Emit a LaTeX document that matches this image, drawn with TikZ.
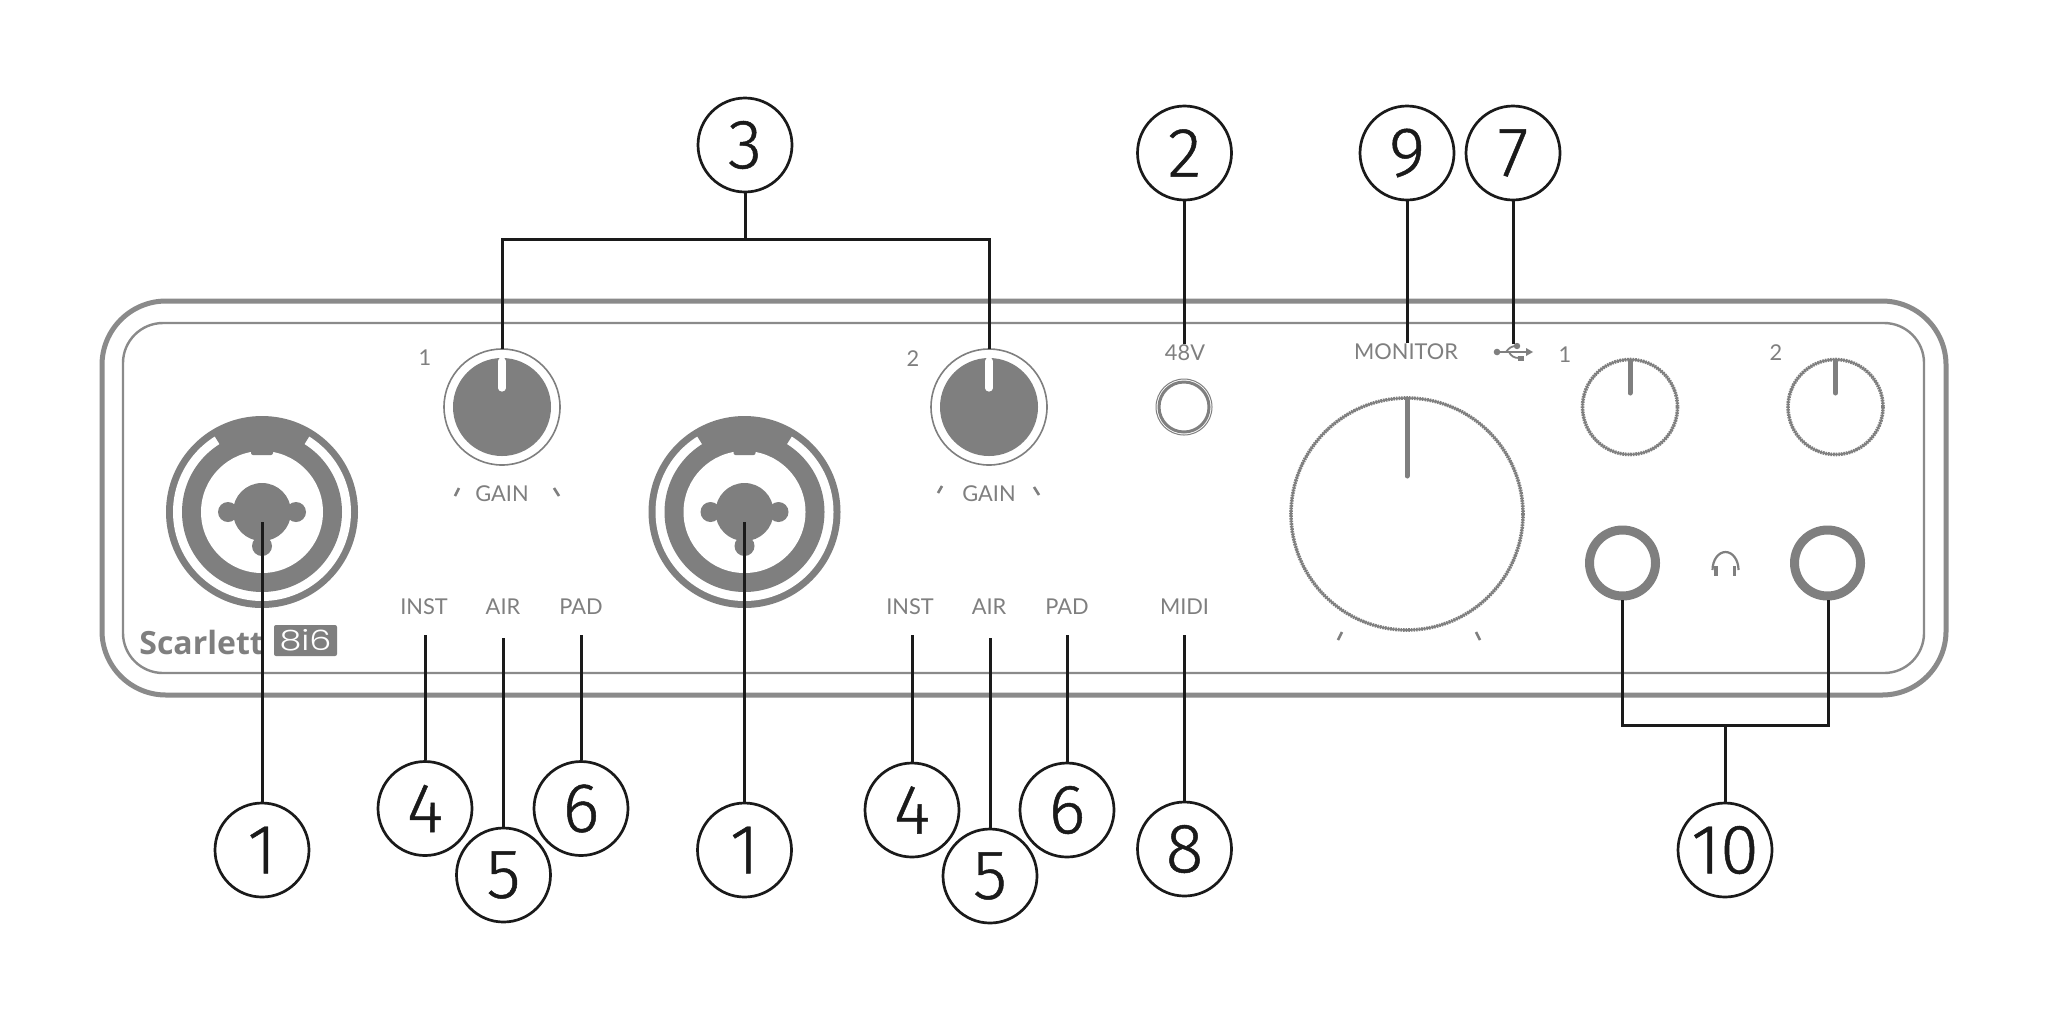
\documentclass[tikz,border=0pt]{standalone}
\usepackage{fontspec}
\usepackage{graphicx}
\setmainfont{Lato}
\newfontfamily\digitfont[FakeBold=0.7]{Fira Sans Light}
\newfontfamily\panelfont{Lato}
\newfontfamily\logofont{Open Sans}
\newfontfamily\modelfont{Poppins Light}
\definecolor{panelgray}{HTML}{7F7F7F}
\definecolor{edgegray}{HTML}{8A8A8A}
\definecolor{leader}{HTML}{1A1A1A}
\tikzset{
  caseline/.style={draw=edgegray,line width=2.5pt,rounded corners=32pt},
  innerline/.style={draw=edgegray,line width=1.2pt,rounded corners=20pt},
  callout/.style={circle,draw=leader,line width=1.35pt,fill=white,minimum size=47pt,inner sep=0pt,font=\digitfont\fontsize{35}{35}\selectfont,text=leader},
  leadline/.style={draw=leader,line width=1.5pt},
  label/.style={font=\panelfont\fontsize{10.9}{12}\selectfont,text=panelgray,inner sep=0pt},
  tickmark/.style={draw=panelgray,line width=1.3pt},
  pointerw/.style={draw=white,line width=3.6pt,line cap=round},
  pointerg/.style={draw=panelgray,line width=2.5pt,line cap=round},
  dotring/.style={draw=panelgray,line width=0.8pt,fill=white,postaction={draw=panelgray,line width=1.8pt,dash pattern=on 0.8pt off 0.5pt}},
}
\newcommand{\combojack}[2]{%
  \begin{scope}[shift={(#1,#2)}]
    \fill[panelgray] (0,0) circle (96);
    \fill[white] (0,0) circle (89);
    \fill[panelgray] (0,0) circle (80);
    \fill[panelgray] (0,0) -- (-122:95) arc (-122:-58:95) -- cycle;
    \fill[white] (0,0) circle (61);
    \fill[panelgray,rounded corners=1pt] (-11,-66) rectangle (11,-57);
    \fill[panelgray] (0,0) circle (29);
    \fill[panelgray] (-34,0) circle (10);
    \fill[panelgray] (34,0) circle (10);
    \fill[panelgray] (0,34) circle (10);
  \end{scope}}
\newcommand{\gainknob}[2]{%
  \begin{scope}[shift={(#1,#2)}]
    \draw[panelgray,line width=0.8pt,fill=white] (0,0) circle (58);
    \fill[panelgray] (0,0) circle (49);
    \draw[pointerw] (0,-46) -- (0,-19);
  \end{scope}}
\begin{document}
\begin{tikzpicture}[x=0.5pt,y=-0.5pt]
\useasboundingbox[fill=white] (0,0) rectangle (2048,1024);
% case
\draw[caseline] (102,301) rectangle (1946,695);
\draw[innerline] (123,323) rectangle (1924,673);
% jacks
\combojack{262}{512}
\combojack{744.5}{512}
% gain knobs
\gainknob{502}{407}
\gainknob{989}{407}
\node[label] at (425,358) {1};
\node[label] at (913,359) {2};
\node[label] at (502,494) {GAIN};
\node[label] at (989,494) {GAIN};
\draw[tickmark] (459,488) -- (455,496);
\draw[tickmark] (554,488) -- (559,496);
\draw[tickmark] (942,486) -- (938,493);
\draw[tickmark] (1034,487) -- (1039,495);
% labels row
\node[label] at (424,607) {INST};
\node[label] at (503,607) {AIR};
\node[label] at (581,607) {PAD};
\node[label] at (910,607) {INST};
\node[label] at (989,607) {AIR};
\node[label] at (1067,607) {PAD};
\node[label] at (1184.5,607) {MIDI};
% 48V
\node[label] at (1185,353) {48V};
\draw[panelgray,line width=0.5pt] (1184,407) circle (28);
\draw[panelgray,line width=1.5pt] (1184,407) circle (25);
% monitor
\node[label] at (1406,352) {MONITOR};
\draw[dotring] (1407,514) circle (116);
\draw[pointerg] (1407,400) -- (1407,476);
\draw[tickmark] (1342,632) -- (1338,640);
\draw[tickmark] (1476,632) -- (1480,640);
% USB
\fill[panelgray] (1497,352) circle (3.3);
\draw[panelgray,line width=0.9pt] (1497,352) -- (1528,352);
\fill[panelgray] (1533,352) -- (1526,348) -- (1526,356) -- cycle;
\draw[panelgray,line width=0.9pt] (1506,352) .. controls (1509,348) and (1511,346) .. (1517,346);
\draw[panelgray,line width=0.9pt] (1509,352) .. controls (1511,356) and (1514,358) .. (1519,358);
\fill[panelgray] (1517,346) circle (3.2);
\fill[panelgray] (1518,356) rectangle (1523.5,361);
% line outs
\node[label] at (1565,355) {1};
\node[label] at (1776,353) {2};
\draw[dotring] (1630,407) circle (47.5);
\draw[pointerg] (1630,361) -- (1630,393);
\draw[dotring] (1835.5,407) circle (47.5);
\draw[pointerg] (1835.5,361) -- (1835.5,393);
% headphones
\draw[panelgray,line width=4.5pt] (1622.5,563) circle (33);
\draw[panelgray,line width=4.5pt] (1827.5,563) circle (33);
\draw[panelgray,line width=1.1pt] (1712.5,570) arc (180:360:13 and 18);
\draw[panelgray,line width=1.9pt] (1716,566) -- (1716,576);
\draw[panelgray,line width=1.9pt] (1734.5,566) -- (1734.5,576);
% logo
\node[font=\logofont\bfseries\fontsize{16}{17}\selectfont,text=panelgray,anchor=base west,inner sep=0pt] (logo) at (139,654) {Scarlett};
\fill[panelgray,rounded corners=1pt] (274,625) rectangle (337,656);
\node[font=\modelfont\fontsize{14}{14}\selectfont,text=white,inner sep=0pt] (model) at (305.5,640.5) {\scalebox{1.25}[1]{8i6}};
% anchors
\coordinate (jackA) at (262,522);
\coordinate (jackB) at (744.5,522);
\coordinate (gainA) at (502,349);
\coordinate (gainB) at (989,349);
\coordinate (instA) at (425,635);
\coordinate (airA) at (503.5,638);
\coordinate (padA) at (581,635);
\coordinate (instB) at (912,635);
\coordinate (airB) at (990,638);
\coordinate (padB) at (1067,635);
\coordinate (midi) at (1184.5,635);
\coordinate (phant) at (1184.5,344);
\coordinate (mon) at (1407,343);
\coordinate (usb) at (1513,344);
\coordinate (hpA) at (1622.5,600);
\coordinate (hpB) at (1828,600);
% callouts
\node[callout] (c3) at (745,145) {3};
\node[callout] (c2) at (1184.5,153) {2};
\node[callout] (c9) at (1407,153) {9};
\node[callout] (c7) at (1513,153) {7};
\node[callout] (c1a) at (262,850) {1};
\node[callout] (c4a) at (425,808.5) {4};
\node[callout] (c5a) at (503.5,875) {5};
\node[callout] (c6a) at (581,808.5) {6};
\node[callout] (c1b) at (744.5,850) {1};
\node[callout] (c4b) at (912,810) {4};
\node[callout] (c5b) at (990,876) {5};
\node[callout] (c6b) at (1067,810) {6};
\node[callout] (c8) at (1184.5,849) {8};
\node[callout] (c10) at (1725,850) {10};
% leaders
\draw[leadline] (jackA) -- (c1a);
\draw[leadline] (jackB) -- (c1b);
\draw[leadline] (instA) -- (c4a);
\draw[leadline] (airA) -- (c5a);
\draw[leadline] (padA) -- (c6a);
\draw[leadline] (instB) -- (c4b);
\draw[leadline] (airB) -- (c5b);
\draw[leadline] (padB) -- (c6b);
\draw[leadline] (midi) -- (c8);
\draw[leadline] (phant) -- (c2);
\draw[leadline] (mon) -- (c9);
\draw[leadline] (usb) -- (c7);
\draw[leadline] (c3) -- (745,239);
\draw[leadline] (gainA) -- (502,239) -- (989,239) -- (gainB);
\draw[leadline] (hpA) -- (1622.5,725) -- (1828,725) -- (hpB);
\draw[leadline] (1725,725) -- (c10);
\end{tikzpicture}
\end{document}
